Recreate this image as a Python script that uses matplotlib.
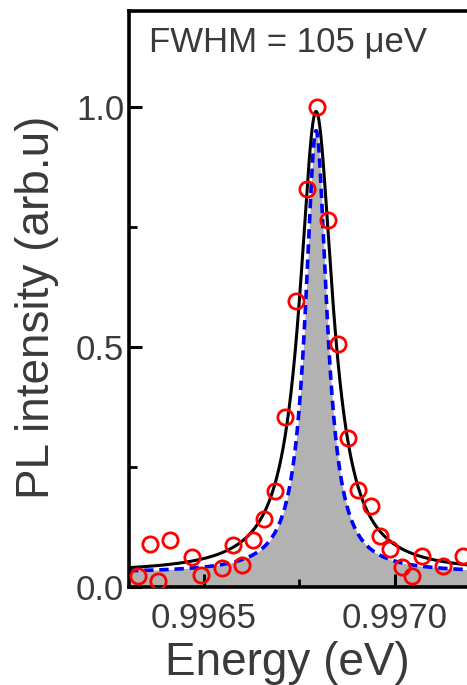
import numpy as np
import matplotlib
matplotlib.use("Agg")
import matplotlib.pyplot as plt
from matplotlib.ticker import MultipleLocator, FormatStrFormatter

plt.rcParams['font.family'] = ['Liberation Sans', 'DejaVu Sans']

# Measured PL spectrum (normalised)
energy_ev = [0.996330, 0.996360, 0.996382, 0.996413, 0.996469, 0.996493,
             0.996549, 0.996578, 0.996600, 0.996630, 0.996659, 0.996687,
             0.996713, 0.996742, 0.996769, 0.996796, 0.996826, 0.996852,
             0.996878, 0.996904, 0.996937, 0.996961, 0.996987, 0.997019,
             0.997044, 0.997070, 0.997126, 0.997178]
intensity = [0.023, 0.091, 0.013, 0.098, 0.062, 0.025,
             0.041, 0.087, 0.046, 0.098, 0.143, 0.200,
             0.355, 0.596, 0.829, 1.000, 0.765, 0.506,
             0.311, 0.203, 0.170, 0.106, 0.079, 0.042,
             0.023, 0.065, 0.044, 0.065]

# Lorentzian fit parameters
peak_center_ev = 0.996794
fit_fwhm_uev = 105.0
fit_amplitude = 0.96
fit_baseline = 0.03

# Narrower component (shaded)
narrow_fwhm_uev = 68.0
narrow_amplitude = 0.92
narrow_baseline = 0.03

fwhm_label = "FWHM = 105 \u03bceV"
x_ticks = [0.9965, 0.9970]
y_ticks = [0.0, 0.5, 1.0]
x_limits = (0.99630548, 0.99718799)
y_limits = (0.0, 1.2)


def lorentzian(e, center, fwhm_uev, amp, base):
    hw = fwhm_uev * 1e-6 / 2.0
    return amp / (1.0 + ((e - center) / hw) ** 2) + base


W, H = 467, 685
fig = plt.figure(figsize=(W / 100, H / 100), dpi=100)
ax = fig.add_axes([129 / W, 1 - 587.3 / H, (467 - 129) / W, (587.3 - 10.5) / H])

e_grid = np.linspace(x_limits[0], x_limits[1], 1500)
narrow = lorentzian(e_grid, peak_center_ev, narrow_fwhm_uev, narrow_amplitude, narrow_baseline)
fit = lorentzian(e_grid, peak_center_ev, fit_fwhm_uev, fit_amplitude, fit_baseline)

ax.fill_between(e_grid, 0, narrow, color='#b2b2b2', lw=0, zorder=1)
ax.plot(e_grid, narrow, color='#0000ff', lw=2.6, ls=(0, (2.6, 1.6)), zorder=2)
ax.plot(e_grid, fit, color='black', lw=2.2, zorder=3)
ax.plot(energy_ev, intensity, ls='none', marker='o', ms=11, mfc='none',
        mec='#ff0000', mew=2.0, zorder=4)

ax.set_xlim(*x_limits)
ax.set_ylim(*y_limits)
ax.set_xticks(x_ticks)
ax.set_yticks(y_ticks)
ax.xaxis.set_minor_locator(MultipleLocator(0.00025))
ax.yaxis.set_minor_locator(MultipleLocator(0.25))
ax.xaxis.set_major_formatter(FormatStrFormatter('%.4f'))
ax.yaxis.set_major_formatter(FormatStrFormatter('%.1f'))

text_color = '#3a3a3a'
ax.tick_params(which='both', direction='in', top=False, right=False,
               colors='black', labelcolor=text_color, labelsize=25)
ax.tick_params(which='major', length=9.5, width=2.2)
ax.tick_params(which='minor', length=5.5, width=2.0)
ax.tick_params(axis='x', which='major', pad=10.5)
ax.tick_params(axis='y', which='major', pad=3.5)

for side in ('left', 'bottom', 'top'):
    ax.spines[side].set_linewidth(2.6)
    ax.spines[side].set_color('black')
ax.spines['right'].set_visible(False)

fig.text(149 / W, 1 - 52 / H, fwhm_label, fontsize=25, color=text_color,
         ha='left', va='baseline')
fig.text(287.5 / W, 1 - 675 / H, "Energy (eV)", fontsize=33, color=text_color,
         ha='center', va='baseline')
fig.text(37 / W, 1 - 307.5 / H, "PL intensity (arb.u)", fontsize=33,
         color=text_color, ha='center', va='center', rotation=90)

fig.savefig("out.png", dpi=100)
